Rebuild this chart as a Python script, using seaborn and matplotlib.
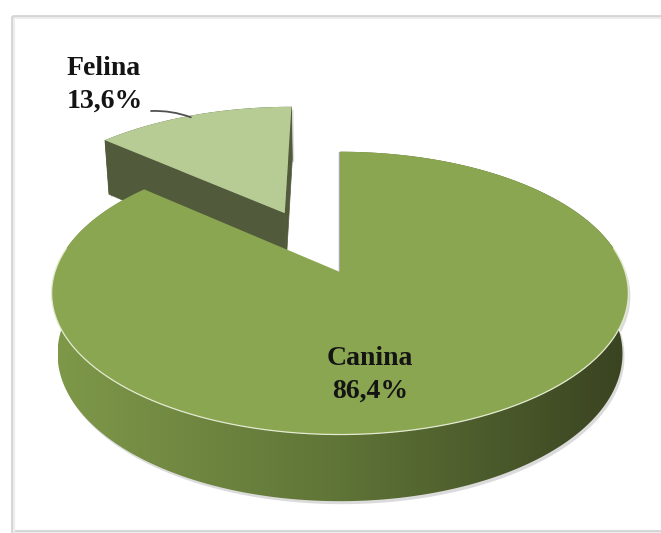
import numpy as np
import matplotlib
matplotlib.use("Agg")
import matplotlib.pyplot as plt
import seaborn as sns
from matplotlib.patches import Polygon, Rectangle
from matplotlib.colors import LinearSegmentedColormap

# ---- data ----
categories = ["Canina", "Felina"]
values = [86.4, 13.6]
explode = [0.0, 0.5]
top_colors = ["#8aa650", "#b7cb94"]
face_colors = ["#5d7236", "#515a3b"]

sns.set_theme(style="white")
plt.rcParams["font.family"] = ["Liberation Serif", "DejaVu Serif"]

W, H_PX = 661, 533
fig = plt.figure(figsize=(W / 100, H_PX / 100), dpi=100)
ax = fig.add_axes([0, 0, 1, 1])
ax.set_xlim(0, W)
ax.set_ylim(H_PX, 0)
ax.axis("off")

# ---- 3D projection (Excel-like 3D pie) ----
CX, CY = 340, 272
F, D = 1668.0, 5.85
TILT = np.radians(29)
DEPTH = 0.246
S, C = np.sin(TILT), np.cos(TILT)
CAM = np.array([0.0, -D * C])  # camera in X,Z plane


def proj(X, Z, Y=0.0):
    X = np.asarray(X, float)
    Z = np.asarray(Z, float)
    yc = Z * S + Y * C
    dep = D + Z * C - Y * S
    return CX + F * X / dep, CY - F * yc / dep


# frame
ax.add_patch(Rectangle((12, 16), 720, 515, fill=False, ec="#d4d4d4", lw=2.0, zorder=0))
ax.add_patch(Rectangle((14, 18), 720, 515, fill=False, ec="#ececec", lw=1.5, zorder=0))

fracs = np.array(values) / np.sum(values)
cum = np.concatenate([[0], np.cumsum(fracs)[:-1]])
a_end = 90 - cum * 360
a_start = a_end - fracs * 360

wall_cmap = LinearSegmentedColormap.from_list("wall", ["#7e9849", "#5f7437", "#3a4421"])

order = [1, 0]  # back slice first
for i in order:
    t = np.radians(np.linspace(a_start[i], a_end[i], 400))
    mid = np.radians((a_start[i] + a_end[i]) / 2)
    ox, oz = explode[i] * np.cos(mid), explode[i] * np.sin(mid)
    X = ox + np.cos(t)
    Z = oz + np.sin(t)
    tx, ty = proj(X, Z, 0.0)
    bx, by = proj(X, Z, -DEPTH)
    cx0, cy0 = proj(ox, oz, 0.0)
    cbx, cby = proj(ox, oz, -DEPTH)

    # outer wall
    wall = np.column_stack([np.concatenate([tx, bx[::-1]]), np.concatenate([ty, by[::-1]])])
    ax.add_patch(Polygon(wall + [2, 3], closed=True, fc="#9a9a9a", ec="none", alpha=0.35, zorder=1))
    if i == 0:
        wp = Polygon(wall, closed=True, fc="none", ec="none", zorder=2)
        ax.add_patch(wp)
        grad = np.linspace(0, 1, 256).reshape(1, -1)
        im = ax.imshow(grad, cmap=wall_cmap, aspect="auto",
                       extent=(bx.min(), bx.max(), by.max() + 2, ty.min()), zorder=2)
        im.set_clip_path(wp)
    else:
        ax.add_patch(Polygon(wall, closed=True, fc=face_colors[i], ec="none", zorder=2))

    # radial faces
    for ang, sgn in ((a_start[i], -1), (a_end[i], 1)):
        ar = np.radians(ang)
        n = np.array([np.cos(ar + sgn * np.pi / 2), np.sin(ar + sgn * np.pi / 2)])
        p = np.array([ox, oz])
        vis = n @ (CAM - p)
        if vis < -1e-9:
            continue
        ex, ez = ox + np.cos(ar), oz + np.sin(ar)
        rx1, ry1 = proj(ex, ez, 0.0)
        rx2, ry2 = proj(ex, ez, -DEPTH)
        face = [[cx0, cy0], [rx1, ry1], [rx2, ry2], [cbx, cby]]
        if vis > 0.05:
            ax.add_patch(Polygon(face, closed=True, fc=face_colors[i], ec=face_colors[i], lw=0.5, zorder=3))
        else:
            ax.add_patch(Polygon(face, closed=True, fc="#b5b5b5", ec="#a8a8a8", lw=1.6, zorder=3))

    # top face
    top = np.column_stack([np.concatenate([[cx0], tx]), np.concatenate([[cy0], ty])])
    ax.add_patch(Polygon(top, closed=True, fc=top_colors[i], ec="none", zorder=4))

    if i == 0:
        tr = np.radians(np.linspace(-190, 10, 300))
        hx, hy = proj(np.cos(tr), np.sin(tr), 0.0)
        ax.plot(hx, hy, color="#e3ead0", lw=0.9, zorder=5)

# labels
lab = [f"{c}\n{v:.1f}%".replace(".", ",") for c, v in zip(categories, values)]
ax.text(370, 375, lab[0], ha="center", va="center", fontsize=20, fontweight="bold",
        color="#141414", linespacing=1.42, zorder=6)
ax.text(67, 85, lab[1], ha="left", va="center", fontsize=20, fontweight="bold",
        color="#141414", linespacing=1.42, zorder=6)

# leader line to Felina arc midpoint
m = np.radians((a_start[1] + a_end[1]) / 2)
lx, ly = proj(explode[1] * np.cos(m) + np.cos(m), explode[1] * np.sin(m) + np.sin(m), 0.0)
ax.annotate("", xy=(float(lx) - 2, float(ly) + 2), xytext=(151, 111),
            arrowprops=dict(arrowstyle="-", color="#505050", lw=1.3,
                            connectionstyle="arc3,rad=-0.1", shrinkA=0, shrinkB=0), zorder=6)

fig.savefig("out.png", dpi=100, facecolor="white")
